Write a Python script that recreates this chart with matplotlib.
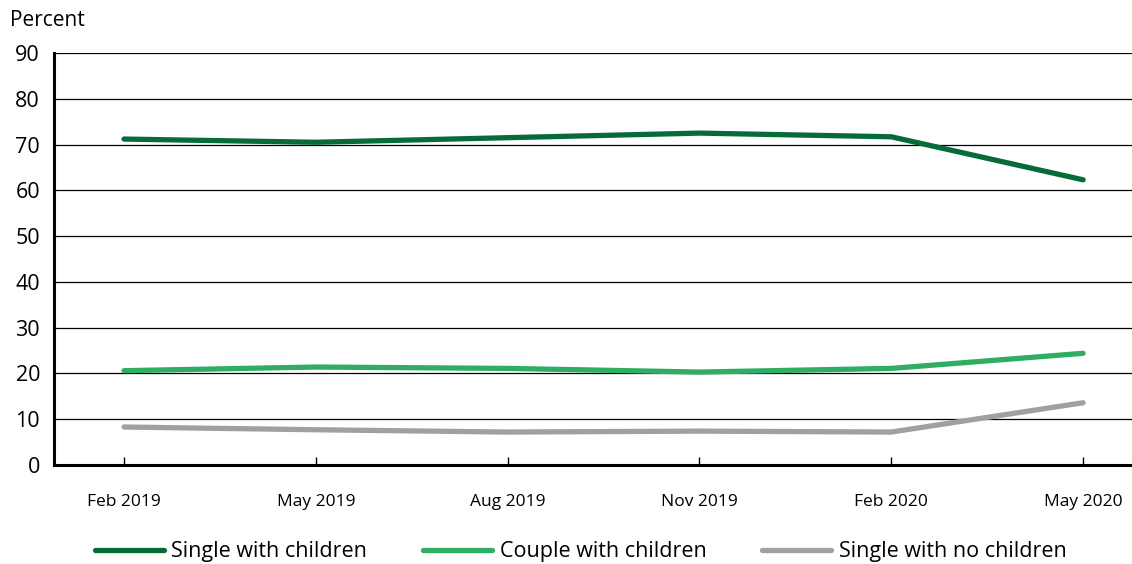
import numpy as np
import matplotlib
matplotlib.use("Agg")
import matplotlib.pyplot as plt

plt.rcParams['font.family'] = ['Open Sans', 'DejaVu Sans']

# data
months = ['Feb 2019', 'May 2019', 'Aug 2019', 'Nov 2019', 'Feb 2020', 'May 2020']
single_children = [71.2, 70.5, 71.5, 72.5, 71.7, 62.3]
couple_children = [20.6, 21.4, 21.1, 20.3, 21.1, 24.4]
single_no_children = [8.3, 7.7, 7.2, 7.4, 7.2, 13.6]
series_names = ['Single with children', 'Couple with children', 'Single with no children']
colors = ['#066B37', '#2FAE63', '#A0A0A0']
yticks = [0, 10, 20, 30, 40, 50, 60, 70, 80, 90]

fig = plt.figure(figsize=(11.32, 5.64), dpi=100)
ax = fig.add_axes([54 / 1132, 99 / 564, 1 - 54 / 1132, 412 / 564])

x = np.arange(len(months))
for vals, name, col in zip([single_children, couple_children, single_no_children],
                           series_names, colors):
    ax.plot(x, vals, color=col, lw=3.8, label=name,
            solid_capstyle='round', solid_joinstyle='round', zorder=3)

ax.set_ylim(0, 90)
ax.set_xlim(-0.365, 5.255)
ax.set_yticks(yticks)
ax.set_yticklabels([str(v) for v in yticks], fontsize=15.5)
ax.set_xticks(x)
ax.set_xticklabels(months, fontsize=12.5)
ax.tick_params(axis='y', length=0, pad=10)
ax.tick_params(axis='x', direction='in', length=6, width=1, pad=21)

for v in yticks[1:]:
    ax.axhline(v, color='black', lw=0.9, zorder=1)

for s in ['top', 'right']:
    ax.spines[s].set_visible(False)
ax.spines['left'].set_linewidth(2.2)
ax.spines['bottom'].set_linewidth(2.2)

fig.text(10 / 1132, 1 - 20 / 564, 'Percent', fontsize=15, va='center', ha='left')

fig.legend(loc='center', bbox_to_anchor=(0.513, 1 - 552 / 564), ncol=3,
           frameon=False, fontsize=15.5, handlelength=3.2, columnspacing=2.6,
           handletextpad=0.35)

fig.savefig('out.png', dpi=100)
